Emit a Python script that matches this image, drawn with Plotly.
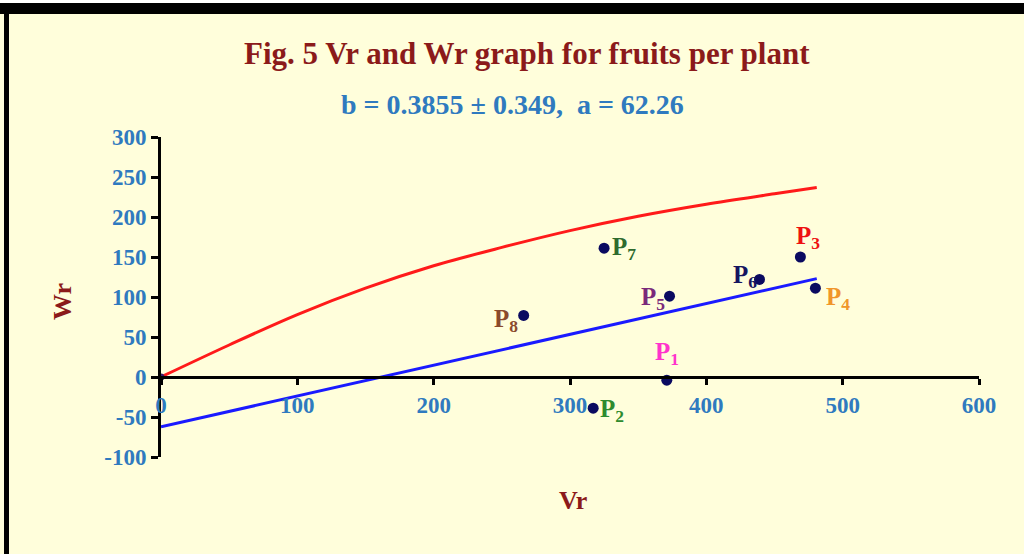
import plotly.graph_objects as go

# ---- data ----
parent_names = ["P1", "P2", "P3", "P4", "P5", "P6", "P7", "P8"]
parent_vr = [371, 317, 469, 480, 373, 439, 325, 266]
parent_wr = [-4, -39, 150, 111, 101, 122, 161, 77]

limit_vr = [0, 50, 100, 150, 200, 250, 300, 350, 400, 450, 481]
limit_wr = [0, 40, 78, 111, 139, 162, 183, 201, 216, 229, 237]

reg_vr = [0, 481]
reg_wr = [-62.26, 123]

x_ticks = [0, 100, 200, 300, 400, 500, 600]
y_ticks = [-100, -50, 0, 50, 100, 150, 200, 250, 300]
y_tick_labels = ["-100", "-50", "0", "50", "100", "150", "200", "250", "300"]

title_text = "Fig. 5 Vr and Wr graph for fruits per plant"
subtitle_text = "b = 0.3855 ± 0.349,  a = 62.26"

# ---- styles ----
SERIF = "Liberation Serif"
label_style = {
    "P1": dict(color="#ff33cc", ax=0, ay=-27, xanchor="center"),
    "P2": dict(color="#2e8b2e", ax=5, ay=2, xanchor="left"),
    "P3": dict(color="#ee1111", ax=8, ay=-20, xanchor="center"),
    "P4": dict(color="#f0962a", ax=9, ay=10, xanchor="left"),
    "P5": dict(color="#7a2a7a", ax=-3, ay=2, xanchor="right"),
    "P6": dict(color="#151560", ax=-1, ay=-3, xanchor="right"),
    "P7": dict(color="#2e6b2e", ax=6, ay=0, xanchor="left"),
    "P8": dict(color="#8b4a2b", ax=-4, ay=5, xanchor="right"),
}

W, H = 1024, 554
L, R, T, B = 161, 45, 137, 97
pw, ph = W - L - R, H - T - B


def px(xp):
    return (xp - L) / pw


def py(yp):
    return (H - B - yp) / ph


fig = go.Figure()
fig.add_trace(go.Scatter(x=limit_vr, y=limit_wr, mode="lines",
                         line=dict(color="#ff1a1a", width=3, shape="spline"),
                         showlegend=False, hoverinfo="skip"))
fig.add_trace(go.Scatter(x=reg_vr, y=reg_wr, mode="lines",
                         line=dict(color="#1a1aff", width=3),
                         showlegend=False, hoverinfo="skip"))
fig.add_trace(go.Scatter(x=[limit_vr[0]], y=[limit_wr[0]], mode="markers",
                         marker=dict(color="#3a1a6a", size=7),
                         showlegend=False, hoverinfo="skip"))
fig.add_trace(go.Scatter(x=parent_vr, y=parent_wr, mode="markers",
                         marker=dict(color="#0a0a60", size=11),
                         showlegend=False))

annotations = []
for name, xv, yv in zip(parent_names, parent_vr, parent_wr):
    st = label_style[name]
    annotations.append(dict(
        x=xv, y=yv, xref="x", yref="y",
        text=f"{name[0]}<sub>{name[1:]}</sub>",
        showarrow=True, arrowcolor="rgba(0,0,0,0)", arrowwidth=0.1,
        ax=st["ax"], ay=st["ay"], xanchor=st["xanchor"], yanchor="middle",
        font=dict(family=SERIF, size=25, color=st["color"], weight="bold"),
    ))

annotations += [
    dict(x=px(527), y=py(53), xref="paper", yref="paper", text=title_text,
         showarrow=False, xanchor="center", yanchor="middle",
         font=dict(family=SERIF, size=31, color="#8b1a1a", weight="bold")),
    dict(x=px(512), y=py(104), xref="paper", yref="paper", text=subtitle_text,
         showarrow=False, xanchor="center", yanchor="middle",
         font=dict(family=SERIF, size=28, color="#2f7abf", weight="bold")),
    dict(x=px(62), y=py(302), xref="paper", yref="paper", text="Wr",
         showarrow=False, textangle=-90, xanchor="center", yanchor="middle",
         font=dict(family=SERIF, size=26, color="#8b1a1a", weight="bold")),
    dict(x=px(573), y=py(500), xref="paper", yref="paper", text="Vr",
         showarrow=False, xanchor="center", yanchor="middle",
         font=dict(family=SERIF, size=26, color="#8b1a1a", weight="bold")),
]

shapes = [
    dict(type="rect", xref="paper", yref="paper", x0=px(0), x1=px(W),
         y0=py(3), y1=py(0), fillcolor="white", line_width=0, layer="below"),
    dict(type="rect", xref="paper", yref="paper", x0=px(0), x1=px(W),
         y0=py(14), y1=py(3), fillcolor="black", line_width=0),
    dict(type="rect", xref="paper", yref="paper", x0=px(4), x1=px(9),
         y0=py(H), y1=py(14), fillcolor="black", line_width=0),
]

tick_font = dict(family=SERIF, size=23, color="#2f7abf", weight="bold")

fig.update_layout(
    width=W, height=H,
    margin=dict(l=L, r=R, t=T, b=B),
    paper_bgcolor="#fffedb",
    plot_bgcolor="rgba(0,0,0,0)",
    annotations=annotations,
    shapes=shapes,
    xaxis=dict(range=[0, 600], tickvals=x_ticks, showgrid=False, zeroline=False,
               showline=True, linecolor="black", linewidth=3,
               ticks="outside", ticklen=6, tickwidth=3, tickcolor="black",
               anchor="free", position=0.25, tickfont=tick_font),
    yaxis=dict(range=[-100, 300], tickvals=y_ticks, ticktext=y_tick_labels,
               showgrid=False, zeroline=False,
               showline=True, linecolor="black", linewidth=3,
               ticks="outside", ticklen=7, tickwidth=3, tickcolor="black",
               tickfont=tick_font),
)

fig.write_html("out.html")
